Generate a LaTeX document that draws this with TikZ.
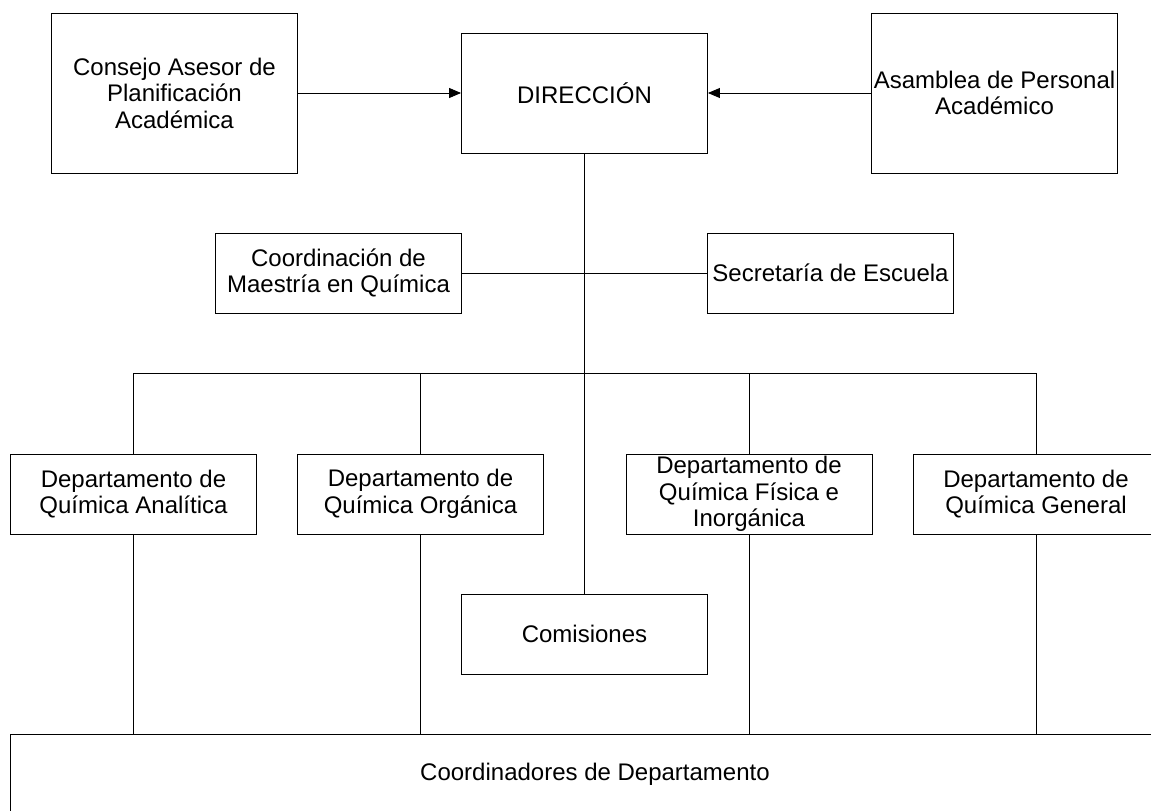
\documentclass[tikz,border=0pt]{standalone}
\usepackage{fontspec}
\setmainfont{Liberation Sans}
\usetikzlibrary{arrows.meta}

\begin{document}
\begin{tikzpicture}[x=1pt, y=-1pt, line width=0.9pt,
            every node/.style={rectangle, draw=black, align=center, inner sep=0pt,
              font=\fontsize{24}{26.5}\selectfont, minimum width=246pt, minimum height=80pt},
            tall/.style={minimum height=160pt},
            mid/.style={minimum height=120pt},
            tip/.style={-{Triangle[length=12pt, width=10pt]}}]
            \useasboundingbox (0,0) rectangle (1151,811);
            \node[tall] (consejo) at (174.5,93) {Consejo Asesor de\\Planificación\\Académica};
            \node[mid] (dir) at (584.5,93) {DIRECCIÓN};
            \node[tall] (asamblea) at (994.5,93) {Asamblea de Personal\\Académico};
            \node (coord) at (338.5,273) {Coordinación de\\Maestría en Química};
            \node (secre) at (830.5,273) {Secretaría de Escuela};
            \node (dA) at (133.5,494) {Departamento de\\Química Analítica};
            \node (dO) at (420.5,494) {Departamento de\\Química Orgánica};
            \node (dF) at (749,494) {Departamento de\\Química Física e\\Inorgánica};
            \node (dG) at (1036,494) {Departamento de\\Química General};
            \node (comis) at (584.5,634) {Comisiones};
            \node[minimum width=1170pt] (coordDep) at (595,774) {Coordinadores de Departamento};
            \coordinate (bus) at (584.5,373);
            \draw[tip] (consejo) -- (dir);
            \draw[tip] (asamblea) -- (dir);
            \draw (dir) -- (comis);
            \draw (coord) -- (secre);
            \draw (dA.north) -- (dA.north |- bus) -- (dG.north |- bus) -- (dG.north);
            \foreach \d in {dA,dO,dF,dG} {
              \draw (\d.north) -- (\d.north |- bus);
              \draw (\d.south) -- (\d.south |- coordDep.north);
            }
          \end{tikzpicture}
\end{document}
